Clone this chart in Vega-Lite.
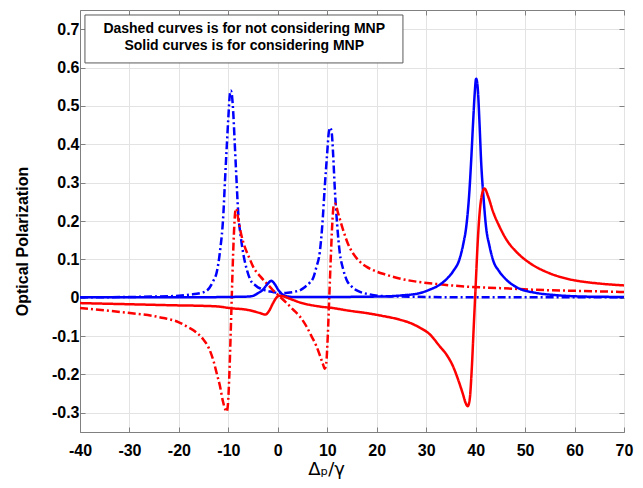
{
  "$schema": "https://vega.github.io/schema/vega-lite/v6.json",
  "width": 544,
  "height": 422,
  "autosize": {"type": "none"},
  "padding": {"left": 80, "top": 10, "right": 19, "bottom": 56},
  "background": "white",
  "config": {
    "font": "Liberation Sans",
    "view": {"stroke": "#808080", "strokeWidth": 1},
    "axis": {
      "domainColor": "#808080",
      "tickColor": "#808080",
      "gridColor": "#e3e3e3",
      "labelFont": "Liberation Sans",
      "labelFontWeight": "bold",
      "labelFontSize": 16,
      "labelColor": "black",
      "labelFlush": false,
      "labelOverlap": false,
      "tickSize": -5,
      "titleFont": "Liberation Sans",
      "titleColor": "black"
    }
  },
  "datasets": {
    "curves": [
      {"part":"Im","mnp":"without","x":-40,"y":0.001},{"part":"Im","mnp":"without","x":-30,"y":0.002},{"part":"Im","mnp":"without","x":-25,"y":0.003},{"part":"Im","mnp":"without","x":-20,"y":0.005},{"part":"Im","mnp":"without","x":-17.8,"y":0.008},{"part":"Im","mnp":"without","x":-15.7,"y":0.012},{"part":"Im","mnp":"without","x":-14.4,"y":0.018},{"part":"Im","mnp":"without","x":-13,"y":0.045},{"part":"Im","mnp":"without","x":-12.4,"y":0.064},{"part":"Im","mnp":"without","x":-11.7,"y":0.12},{"part":"Im","mnp":"without","x":-11,"y":0.22},{"part":"Im","mnp":"without","x":-10.7,"y":0.3},{"part":"Im","mnp":"without","x":-10.3,"y":0.4},{"part":"Im","mnp":"without","x":-10,"y":0.47},{"part":"Im","mnp":"without","x":-9.7,"y":0.53},{"part":"Im","mnp":"without","x":-9.5,"y":0.54},{"part":"Im","mnp":"without","x":-9.3,"y":0.53},{"part":"Im","mnp":"without","x":-9,"y":0.48},{"part":"Im","mnp":"without","x":-8.7,"y":0.4},{"part":"Im","mnp":"without","x":-8.4,"y":0.32},{"part":"Im","mnp":"without","x":-8,"y":0.22},{"part":"Im","mnp":"without","x":-7.5,"y":0.16},{"part":"Im","mnp":"without","x":-7,"y":0.116},{"part":"Im","mnp":"without","x":-6.3,"y":0.075},{"part":"Im","mnp":"without","x":-5.6,"y":0.048},{"part":"Im","mnp":"without","x":-4.5,"y":0.032},{"part":"Im","mnp":"without","x":-3,"y":0.021},{"part":"Im","mnp":"without","x":-1,"y":0.015},{"part":"Im","mnp":"without","x":0.4,"y":0.012},{"part":"Im","mnp":"without","x":2,"y":0.013},{"part":"Im","mnp":"without","x":3.5,"y":0.016},{"part":"Im","mnp":"without","x":4.4,"y":0.019},{"part":"Im","mnp":"without","x":5.5,"y":0.028},{"part":"Im","mnp":"without","x":6.5,"y":0.04},{"part":"Im","mnp":"without","x":7.1,"y":0.05},{"part":"Im","mnp":"without","x":7.8,"y":0.08},{"part":"Im","mnp":"without","x":8.5,"y":0.12},{"part":"Im","mnp":"without","x":9,"y":0.19},{"part":"Im","mnp":"without","x":9.5,"y":0.29},{"part":"Im","mnp":"without","x":10,"y":0.38},{"part":"Im","mnp":"without","x":10.3,"y":0.43},{"part":"Im","mnp":"without","x":10.6,"y":0.443},{"part":"Im","mnp":"without","x":10.9,"y":0.43},{"part":"Im","mnp":"without","x":11.2,"y":0.37},{"part":"Im","mnp":"without","x":11.5,"y":0.29},{"part":"Im","mnp":"without","x":12,"y":0.19},{"part":"Im","mnp":"without","x":12.5,"y":0.12},{"part":"Im","mnp":"without","x":13.2,"y":0.075},{"part":"Im","mnp":"without","x":13.9,"y":0.047},{"part":"Im","mnp":"without","x":15,"y":0.028},{"part":"Im","mnp":"without","x":16.5,"y":0.016},{"part":"Im","mnp":"without","x":18.5,"y":0.009},{"part":"Im","mnp":"without","x":20.6,"y":0.005},{"part":"Im","mnp":"without","x":25,"y":0.003},{"part":"Im","mnp":"without","x":30,"y":0.002},{"part":"Im","mnp":"without","x":40,"y":0.001},{"part":"Im","mnp":"without","x":55,"y":0.001},{"part":"Im","mnp":"without","x":70,"y":0.001},

      {"part":"Re","mnp":"without","x":-40,"y":-0.027},{"part":"Re","mnp":"without","x":-35,"y":-0.033},{"part":"Re","mnp":"without","x":-29.9,"y":-0.04},{"part":"Re","mnp":"without","x":-25,"y":-0.048},{"part":"Re","mnp":"without","x":-23.1,"y":-0.053},{"part":"Re","mnp":"without","x":-20,"y":-0.064},{"part":"Re","mnp":"without","x":-18.4,"y":-0.075},{"part":"Re","mnp":"without","x":-16.5,"y":-0.09},{"part":"Re","mnp":"without","x":-15.1,"y":-0.108},{"part":"Re","mnp":"without","x":-14,"y":-0.13},{"part":"Re","mnp":"without","x":-13,"y":-0.165},{"part":"Re","mnp":"without","x":-12.3,"y":-0.2},{"part":"Re","mnp":"without","x":-11.7,"y":-0.23},{"part":"Re","mnp":"without","x":-11.1,"y":-0.27},{"part":"Re","mnp":"without","x":-10.6,"y":-0.292},{"part":"Re","mnp":"without","x":-10.35,"y":-0.297},{"part":"Re","mnp":"without","x":-10.1,"y":-0.28},{"part":"Re","mnp":"without","x":-9.8,"y":-0.2},{"part":"Re","mnp":"without","x":-9.5,"y":-0.08},{"part":"Re","mnp":"without","x":-9.2,"y":0.05},{"part":"Re","mnp":"without","x":-8.9,"y":0.16},{"part":"Re","mnp":"without","x":-8.6,"y":0.225},{"part":"Re","mnp":"without","x":-8.4,"y":0.232},{"part":"Re","mnp":"without","x":-8,"y":0.205},{"part":"Re","mnp":"without","x":-7.4,"y":0.165},{"part":"Re","mnp":"without","x":-6.7,"y":0.133},{"part":"Re","mnp":"without","x":-5.8,"y":0.105},{"part":"Re","mnp":"without","x":-5,"y":0.081},{"part":"Re","mnp":"without","x":-3.5,"y":0.055},{"part":"Re","mnp":"without","x":-2.3,"y":0.038},{"part":"Re","mnp":"without","x":-1,"y":0.02},{"part":"Re","mnp":"without","x":0.4,"y":0.003},{"part":"Re","mnp":"without","x":1.8,"y":-0.014},{"part":"Re","mnp":"without","x":3.1,"y":-0.031},{"part":"Re","mnp":"without","x":4.4,"y":-0.048},{"part":"Re","mnp":"without","x":5.8,"y":-0.075},{"part":"Re","mnp":"without","x":6.8,"y":-0.1},{"part":"Re","mnp":"without","x":7.8,"y":-0.126},{"part":"Re","mnp":"without","x":8.5,"y":-0.15},{"part":"Re","mnp":"without","x":9.1,"y":-0.172},{"part":"Re","mnp":"without","x":9.5,"y":-0.185},{"part":"Re","mnp":"without","x":9.8,"y":-0.17},{"part":"Re","mnp":"without","x":10.1,"y":-0.1},{"part":"Re","mnp":"without","x":10.4,"y":0},{"part":"Re","mnp":"without","x":10.7,"y":0.1},{"part":"Re","mnp":"without","x":11,"y":0.19},{"part":"Re","mnp":"without","x":11.3,"y":0.24},{"part":"Re","mnp":"without","x":11.6,"y":0.245},{"part":"Re","mnp":"without","x":12.2,"y":0.22},{"part":"Re","mnp":"without","x":13.2,"y":0.177},{"part":"Re","mnp":"without","x":14.2,"y":0.14},{"part":"Re","mnp":"without","x":15.2,"y":0.116},{"part":"Re","mnp":"without","x":16.5,"y":0.095},{"part":"Re","mnp":"without","x":17.9,"y":0.081},{"part":"Re","mnp":"without","x":20,"y":0.068},{"part":"Re","mnp":"without","x":21.9,"y":0.06},{"part":"Re","mnp":"without","x":24.6,"y":0.05},{"part":"Re","mnp":"without","x":28,"y":0.042},{"part":"Re","mnp":"without","x":32,"y":0.036},{"part":"Re","mnp":"without","x":38,"y":0.029},{"part":"Re","mnp":"without","x":45,"y":0.025},{"part":"Re","mnp":"without","x":51.5,"y":0.021},{"part":"Re","mnp":"without","x":60,"y":0.018},{"part":"Re","mnp":"without","x":70,"y":0.015},

      {"part":"Im","mnp":"with","x":-40,"y":0.001},{"part":"Im","mnp":"with","x":-20,"y":0.001},{"part":"Im","mnp":"with","x":-10,"y":0.002},{"part":"Im","mnp":"with","x":-6,"y":0.003},{"part":"Im","mnp":"with","x":-5,"y":0.005},{"part":"Im","mnp":"with","x":-4,"y":0.012},{"part":"Im","mnp":"with","x":-3,"y":0.021},{"part":"Im","mnp":"with","x":-2.2,"y":0.034},{"part":"Im","mnp":"with","x":-1.3,"y":0.044},{"part":"Im","mnp":"with","x":-0.6,"y":0.035},{"part":"Im","mnp":"with","x":0.07,"y":0.021},{"part":"Im","mnp":"with","x":0.8,"y":0.01},{"part":"Im","mnp":"with","x":1.75,"y":0.004},{"part":"Im","mnp":"with","x":3,"y":0.002},{"part":"Im","mnp":"with","x":10,"y":0.002},{"part":"Im","mnp":"with","x":20,"y":0.003},{"part":"Im","mnp":"with","x":25,"y":0.006},{"part":"Im","mnp":"with","x":28.7,"y":0.012},{"part":"Im","mnp":"with","x":30.7,"y":0.021},{"part":"Im","mnp":"with","x":32.5,"y":0.032},{"part":"Im","mnp":"with","x":34,"y":0.047},{"part":"Im","mnp":"with","x":35.5,"y":0.07},{"part":"Im","mnp":"with","x":36.7,"y":0.099},{"part":"Im","mnp":"with","x":37.5,"y":0.14},{"part":"Im","mnp":"with","x":38.1,"y":0.185},{"part":"Im","mnp":"with","x":38.7,"y":0.27},{"part":"Im","mnp":"with","x":39.1,"y":0.358},{"part":"Im","mnp":"with","x":39.5,"y":0.46},{"part":"Im","mnp":"with","x":39.8,"y":0.53},{"part":"Im","mnp":"with","x":40.1,"y":0.571},{"part":"Im","mnp":"with","x":40.4,"y":0.55},{"part":"Im","mnp":"with","x":40.8,"y":0.45},{"part":"Im","mnp":"with","x":41.1,"y":0.358},{"part":"Im","mnp":"with","x":41.6,"y":0.26},{"part":"Im","mnp":"with","x":42.1,"y":0.185},{"part":"Im","mnp":"with","x":42.8,"y":0.135},{"part":"Im","mnp":"with","x":43.5,"y":0.099},{"part":"Im","mnp":"with","x":44.8,"y":0.068},{"part":"Im","mnp":"with","x":46.2,"y":0.047},{"part":"Im","mnp":"with","x":48.8,"y":0.024},{"part":"Im","mnp":"with","x":52,"y":0.013},{"part":"Im","mnp":"with","x":56,"y":0.007},{"part":"Im","mnp":"with","x":62,"y":0.003},{"part":"Im","mnp":"with","x":70,"y":0.002},

      {"part":"Re","mnp":"with","x":-40,"y":-0.014},{"part":"Re","mnp":"with","x":-30,"y":-0.017},{"part":"Re","mnp":"with","x":-20,"y":-0.02},{"part":"Re","mnp":"with","x":-15.7,"y":-0.021},{"part":"Re","mnp":"with","x":-12,"y":-0.023},{"part":"Re","mnp":"with","x":-9.7,"y":-0.027},{"part":"Re","mnp":"with","x":-6,"y":-0.032},{"part":"Re","mnp":"with","x":-3.6,"y":-0.04},{"part":"Re","mnp":"with","x":-2.5,"y":-0.044},{"part":"Re","mnp":"with","x":-1.8,"y":-0.035},{"part":"Re","mnp":"with","x":-1,"y":-0.015},{"part":"Re","mnp":"with","x":-0.3,"y":0},{"part":"Re","mnp":"with","x":0.3,"y":0.005},{"part":"Re","mnp":"with","x":1,"y":0.004},{"part":"Re","mnp":"with","x":2.5,"y":-0.003},{"part":"Re","mnp":"with","x":4.4,"y":-0.012},{"part":"Re","mnp":"with","x":8.5,"y":-0.023},{"part":"Re","mnp":"with","x":11.2,"y":-0.027},{"part":"Re","mnp":"with","x":14,"y":-0.033},{"part":"Re","mnp":"with","x":17.9,"y":-0.04},{"part":"Re","mnp":"with","x":21,"y":-0.047},{"part":"Re","mnp":"with","x":24.6,"y":-0.057},{"part":"Re","mnp":"with","x":27,"y":-0.067},{"part":"Re","mnp":"with","x":28.7,"y":-0.078},{"part":"Re","mnp":"with","x":30.7,"y":-0.095},{"part":"Re","mnp":"with","x":32.7,"y":-0.126},{"part":"Re","mnp":"with","x":34.2,"y":-0.15},{"part":"Re","mnp":"with","x":35.4,"y":-0.178},{"part":"Re","mnp":"with","x":36.5,"y":-0.215},{"part":"Re","mnp":"with","x":37.4,"y":-0.25},{"part":"Re","mnp":"with","x":38,"y":-0.275},{"part":"Re","mnp":"with","x":38.4,"y":-0.283},{"part":"Re","mnp":"with","x":38.8,"y":-0.265},{"part":"Re","mnp":"with","x":39.2,"y":-0.19},{"part":"Re","mnp":"with","x":39.6,"y":-0.08},{"part":"Re","mnp":"with","x":40,"y":0.03},{"part":"Re","mnp":"with","x":40.4,"y":0.14},{"part":"Re","mnp":"with","x":40.8,"y":0.22},{"part":"Re","mnp":"with","x":41.3,"y":0.27},{"part":"Re","mnp":"with","x":41.8,"y":0.285},{"part":"Re","mnp":"with","x":42.5,"y":0.265},{"part":"Re","mnp":"with","x":43.5,"y":0.225},{"part":"Re","mnp":"with","x":44.8,"y":0.186},{"part":"Re","mnp":"with","x":46.2,"y":0.152},{"part":"Re","mnp":"with","x":48.2,"y":0.12},{"part":"Re","mnp":"with","x":51,"y":0.09},{"part":"Re","mnp":"with","x":54.9,"y":0.064},{"part":"Re","mnp":"with","x":58,"y":0.051},{"part":"Re","mnp":"with","x":61.6,"y":0.042},{"part":"Re","mnp":"with","x":65,"y":0.037},{"part":"Re","mnp":"with","x":70,"y":0.032}
    ],
    "box": [{"x0": -39, "x1": 25.3, "y0": 0.612, "y1": 0.737}],
    "notes": [
      {"x": -6.8, "y": 0.7, "label": "Dashed curves is for not considering MNP"},
      {"x": -6.8, "y": 0.655, "label": "Solid curves is for considering MNP"}
    ]
  },
  "resolve": {"axis": {"x": "independent", "y": "independent"}},
  "layer": [
    {
      "data": {"name": "curves"},
      "mark": {"type": "line", "strokeWidth": 2.5, "interpolate": "monotone"},
      "encoding": {
        "x": {"field": "x", "type": "quantitative",
              "scale": {"domain": [-40, 70], "nice": false, "zero": false},
              "axis": {"orient": "bottom", "values": [-40,-30,-20,-10,0,10,20,30,40,50,60,70],
                       "labelExpr": "'' + datum.value", "labelPadding": 15,
                       "title": "Δₚ/γ", "titleFontSize": 18, "titleFontWeight": "normal",
                       "titleFont": "DejaVu Sans", "titleX": 246, "titleY": 42,
                       "titleBaseline": "alphabetic", "titleAnchor": "middle", "titleAlign": "center"}},
        "y": {"field": "y", "type": "quantitative",
              "scale": {"domain": [-0.35, 0.75], "nice": false, "zero": false},
              "axis": {"orient": "left", "values": [-0.3,-0.2,-0.1,0,0.1,0.2,0.3,0.4,0.5,0.6,0.7],
                       "labelExpr": "'' + round(datum.value*10)/10", "labelPadding": 6,
                       "title": "Optical Polarization", "titleFontSize": 16, "titleFontWeight": "bold",
                       "titleX": -58, "titleY": 231, "titleBaseline": "middle", "titleAlign": "center"}},
        "color": {"field": "part", "type": "nominal",
                  "scale": {"domain": ["Im", "Re"], "range": ["#0000ff", "#ff0000"]}, "legend": null},
        "strokeDash": {"field": "mnp", "type": "nominal",
                       "scale": {"domain": ["without", "with"], "range": [[8, 3, 2, 3], [1, 0]]}, "legend": null}
      }
    },
    {
      "data": {"name": "box"},
      "mark": {"type": "rect", "fill": "white", "stroke": "#5a5a5a", "strokeWidth": 1},
      "encoding": {
        "x": {"field": "x0", "type": "quantitative",
              "axis": {"orient": "top", "values": [-40,-30,-20,-10,0,10,20,30,40,50,60,70],
                       "labels": false, "grid": false, "domain": false, "title": null}},
        "x2": {"field": "x1"},
        "y": {"field": "y0", "type": "quantitative",
              "axis": {"orient": "right", "values": [-0.3,-0.2,-0.1,0,0.1,0.2,0.3,0.4,0.5,0.6,0.7],
                       "labels": false, "grid": false, "domain": false, "title": null}},
        "y2": {"field": "y1"}
      }
    },
    {
      "data": {"name": "notes"},
      "mark": {"type": "text", "font": "Liberation Sans", "fontWeight": "bold", "fontSize": 14,
               "align": "center", "baseline": "middle", "color": "black"},
      "encoding": {
        "x": {"field": "x", "type": "quantitative", "axis": null},
        "y": {"field": "y", "type": "quantitative", "axis": null},
        "text": {"field": "label"}
      }
    }
  ]
}
